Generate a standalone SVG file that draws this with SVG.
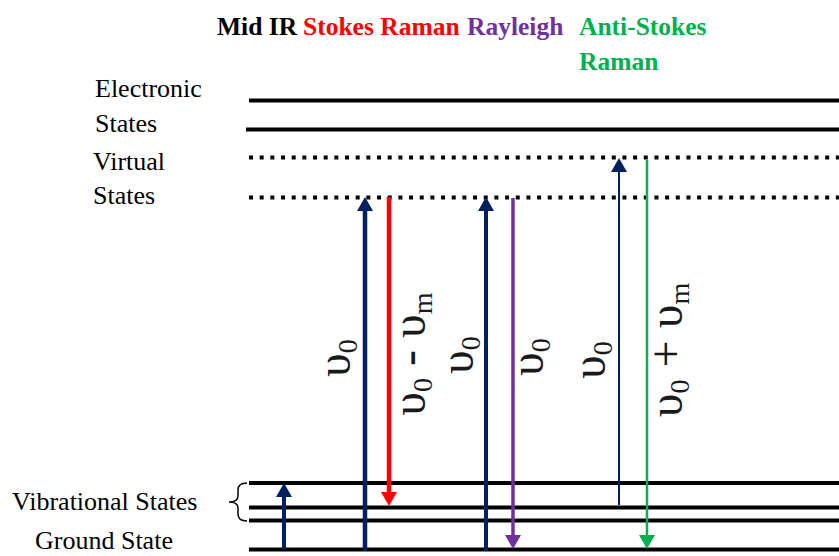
<svg xmlns="http://www.w3.org/2000/svg" width="839" height="556" viewBox="0 0 839 556">
<style>
.lvl{stroke:#000;stroke-width:4;fill:none}
.dot{stroke:#000;stroke-width:4;stroke-dasharray:4 6.67;fill:none}
.lbl{font-family:"Liberation Serif","Times New Roman",serif;font-size:26px;fill:#000}
.top{font-family:"Liberation Serif","Times New Roman",serif;font-size:25.5px;font-weight:bold}
.nu{font-family:"Liberation Serif","Times New Roman",serif;font-size:48px;fill:#1a1a1a}
.sub{font-size:28px}
</style>
<defs>
<marker id="hb" markerUnits="userSpaceOnUse" markerWidth="14" markerHeight="16" refX="0" refY="8" orient="auto" viewBox="0 0 14 16"><path d="M0,0 L14,8 L0,16 z" fill="#002060"/></marker>
<marker id="hr" markerUnits="userSpaceOnUse" markerWidth="14" markerHeight="16" refX="0" refY="8" orient="auto" viewBox="0 0 14 16"><path d="M0,0 L14,8 L0,16 z" fill="#FF0000"/></marker>
<marker id="hp" markerUnits="userSpaceOnUse" markerWidth="14" markerHeight="16" refX="0" refY="8" orient="auto" viewBox="0 0 14 16"><path d="M0,0 L14,8 L0,16 z" fill="#7030A0"/></marker>
<marker id="hg" markerUnits="userSpaceOnUse" markerWidth="14" markerHeight="16" refX="0" refY="8" orient="auto" viewBox="0 0 14 16"><path d="M0,0 L14,8 L0,16 z" fill="#00B050"/></marker>
</defs>
<rect width="839" height="556" fill="#fff"/>
<g id="title-labels">
<text class="top" x="217" y="35" fill="#000">Mid IR</text>
<text class="top" x="303" y="35" fill="#FF0000">Stokes Raman</text>
<text class="top" x="467" y="35" fill="#7030A0">Rayleigh</text>
<text class="top" x="579" y="35" fill="#00B050">Anti-Stokes</text>
<text class="top" x="579" y="70" fill="#00B050">Raman</text>
</g>
<g id="electronic-states">
<text class="lbl" x="95" y="97">Electronic</text>
<text class="lbl" x="95" y="132">States</text>
<line class="lvl" x1="249" y1="100.5" x2="839" y2="100.5"/>
<line class="lvl" x1="246" y1="129.5" x2="839" y2="129.5"/>
</g>
<g id="virtual-states">
<text class="lbl" x="93" y="170">Virtual</text>
<text class="lbl" x="93" y="204">States</text>
<line class="dot" x1="249" y1="157.5" x2="839" y2="157.5"/>
<line class="dot" x1="249" y1="197.5" x2="839" y2="197.5"/>
</g>
<g id="vibrational-states">
<text class="lbl" x="12" y="510">Vibrational States</text>
<path d="M247,483 Q238,483 238,490 L238,496 Q238,502 229,502 Q238,502 238,508 L238,514 Q238,521 247,521" fill="none" stroke="#000" stroke-width="1.5"/>
<line class="lvl" x1="249" y1="483" x2="839" y2="483"/>
<line class="lvl" x1="249" y1="507.5" x2="839" y2="507.5"/>
<line class="lvl" x1="249" y1="520.5" x2="839" y2="520.5"/>
</g>
<g id="ground-state">
<text class="lbl" x="35" y="549">Ground State</text>
<line class="lvl" x1="249" y1="549.5" x2="839" y2="549.5"/>
</g>
<g id="connectors">
<line x1="284" y1="549" x2="284" y2="497" stroke="#002060" stroke-width="4" marker-end="url(#hb)"/>
<line x1="365" y1="551" x2="365" y2="211" stroke="#002060" stroke-width="4.5" marker-end="url(#hb)"/>
<line x1="389" y1="197" x2="389" y2="492" stroke="#FF0000" stroke-width="4.5" marker-end="url(#hr)"/>
<line x1="486" y1="551" x2="486" y2="211" stroke="#002060" stroke-width="4" marker-end="url(#hb)"/>
<line x1="513" y1="198" x2="513" y2="535" stroke="#7030A0" stroke-width="3.5" marker-end="url(#hp)"/>
<line x1="619" y1="505" x2="619" y2="172" stroke="#002060" stroke-width="2" marker-end="url(#hb)"/>
<line x1="647" y1="160" x2="647" y2="535" stroke="#00B050" stroke-width="2.5" marker-end="url(#hg)"/>
</g>
<g id="transition-labels">
<text class="nu" text-anchor="middle" transform="translate(350,358) rotate(-90)">υ<tspan class="sub" dy="7">0</tspan></text>
<text class="nu" text-anchor="middle" transform="translate(425,354) rotate(-90)">υ<tspan class="sub" dy="7">0</tspan><tspan dy="-7"> - υ</tspan><tspan class="sub" dy="7">m</tspan></text>
<text class="nu" text-anchor="middle" transform="translate(473,355) rotate(-90)">υ<tspan class="sub" dy="7">0</tspan></text>
<text class="nu" text-anchor="middle" transform="translate(543,357) rotate(-90)">υ<tspan class="sub" dy="7">0</tspan></text>
<text class="nu" text-anchor="middle" transform="translate(605,360) rotate(-90)">υ<tspan class="sub" dy="7">0</tspan></text>
<text class="nu" text-anchor="middle" transform="translate(682,350) rotate(-90)">υ<tspan class="sub" dy="7">0</tspan><tspan dy="-7"> + υ</tspan><tspan class="sub" dy="7">m</tspan></text>
</g>
</svg>
